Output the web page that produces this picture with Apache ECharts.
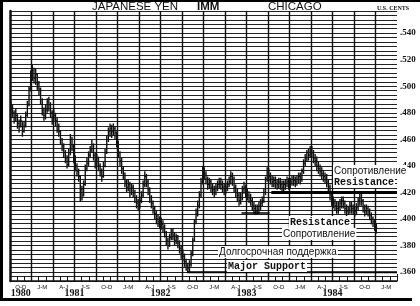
<!DOCTYPE html>
<html><head><meta charset="utf-8">
<script src="https://cdn.jsdelivr.net/npm/echarts@6/dist/echarts.min.js"></script>
<style>html,body{margin:0;padding:0;background:#fff}#c{width:420px;height:306px}</style>
</head><body><div id="c"></div>
<script>
// Quarter labels along the time axis (Oct-Dec 1980 ... Jan-Mar 1985)
const quarterLabels = ['O-D','J-M','A-J','J-S','O-D','J-M','A-J','J-S','O-D','J-M','A-J','J-S','O-D','J-M','A-J','J-S','O-D','J-M'];
const yearLabels = ['1980','1981','1982','1983','1984'];
const yearCenters = [6.5, 39, 91, 143, 195]; // in weeks from start
const priceTicks = [0.36,0.38,0.40,0.42,0.44,0.46,0.48,0.50,0.52,0.54];

// Weekly bars (U.S. cents per yen)
const close = [
.484,.480,.476,.478,.472,.470,.474,.466,.470,.478,.486,.498,.508,.512,.506,.509,.502,.498,.490,.482,
.478,.482,.488,.486,.480,.476,.478,.474,.470,.466,.460,.455,.450,.446,.441,.450,.460,.455,.446,.440,
.436,.432,.422,.418,.426,.438,.442,.448,.452,.456,.448,.442,.446,.440,.436,.432,.440,.450,.460,.466,
.468,.466,.468,.465,.458,.450,.444,.438,.434,.428,.424,.426,.420,.424,.420,.416,.412,.410,.414,.418,
.426,.432,.428,.422,.416,.412,.408,.404,.400,.398,.398,.396,.394,.390,.384,.380,.386,.390,.388,.384,
.386,.382,.378,.374,.372,.368,.365,.363,.366,.374,.384,.398,.404,.410,.418,.428,.436,.434,.430,.426,
.428,.424,.422,.420,.424,.426,.428,.426,.424,.422,.424,.426,.428,.432,.430,.424,.420,.418,.414,.416,
.422,.424,.420,.418,.416,.414,.410,.408,.406,.407,.410,.412,.414,.420,.430,.435,.432,.430,.428,.429,
.427,.426,.428,.426,.424,.426,.427,.428,.426,.428,.430,.429,.428,.430,.432,.430,.436,.442,.446,.450,
.448,.452,.450,.446,.444,.440,.438,.436,.434,.432,.431,.428,.424,.418,.414,.412,.410,.408,.409,.412,
.414,.412,.408,.406,.407,.410,.408,.407,.406,.409,.414,.416,.414,.409,.406,.408,.406,.403,.400,.398,
.395,.393];
const high = [
.489,.486,.482,.483,.479,.475,.478,.473,.474,.481,.489,.500,.512,.516,.514,.513,.510,.504,.499,.491,
.484,.486,.491,.492,.488,.482,.483,.480,.476,.472,.467,.461,.457,.452,.448,.453,.464,.462,.456,.448,
.442,.438,.433,.425,.429,.441,.446,.451,.455,.460,.457,.450,.449,.447,.442,.438,.443,.453,.463,.469,
.472,.471,.472,.470,.466,.459,.451,.446,.440,.435,.430,.430,.428,.427,.426,.422,.418,.415,.417,.421,
.429,.436,.434,.430,.424,.418,.414,.410,.406,.403,.402,.401,.399,.396,.391,.386,.389,.393,.393,.390,
.389,.388,.384,.380,.377,.374,.370,.367,.369,.376,.386,.400,.408,.414,.421,.431,.440,.439,.436,.432,
.431,.430,.427,.425,.427,.429,.431,.431,.429,.427,.427,.429,.432,.436,.435,.432,.426,.423,.420,.420,
.425,.428,.426,.423,.421,.419,.416,.413,.411,.411,.413,.415,.417,.423,.432,.439,.438,.435,.433,.432,
.432,.430,.431,.431,.429,.429,.430,.432,.431,.431,.433,.433,.432,.433,.435,.435,.438,.445,.449,.452,
.453,.455,.455,.452,.449,.447,.443,.441,.439,.437,.435,.434,.430,.426,.420,.417,.415,.413,.413,.415,
.417,.417,.414,.411,.410,.413,.413,.411,.410,.412,.416,.419,.419,.415,.411,.411,.410,.408,.405,.402,
.400,.397];
const low = [
.479,.476,.472,.473,.468,.465,.469,.462,.465,.469,.477,.485,.496,.504,.502,.501,.497,.493,.486,.478,
.474,.475,.480,.481,.476,.471,.473,.470,.465,.462,.456,.451,.446,.442,.438,.440,.448,.451,.442,.436,
.432,.428,.413,.414,.417,.425,.436,.440,.446,.450,.444,.438,.440,.436,.432,.428,.431,.439,.449,.458,
.462,.461,.463,.460,.454,.446,.440,.434,.430,.424,.420,.421,.416,.418,.416,.412,.408,.406,.408,.412,
.416,.424,.424,.418,.412,.408,.404,.400,.396,.394,.393,.392,.390,.386,.380,.377,.379,.384,.384,.380,
.381,.378,.374,.370,.368,.364,.361,.360,.360,.364,.372,.383,.396,.402,.408,.416,.426,.430,.426,.422,
.423,.420,.418,.416,.418,.421,.423,.422,.420,.418,.419,.421,.424,.426,.425,.420,.416,.413,.410,.411,
.414,.419,.416,.414,.412,.410,.406,.404,.403,.403,.404,.406,.409,.412,.418,.428,.428,.426,.424,.424,
.423,.422,.423,.422,.420,.421,.422,.424,.422,.423,.425,.425,.424,.425,.427,.426,.428,.434,.440,.443,
.444,.446,.446,.442,.440,.436,.434,.432,.430,.428,.427,.424,.420,.414,.410,.408,.406,.404,.404,.406,
.408,.408,.404,.402,.403,.404,.404,.403,.402,.403,.406,.410,.410,.405,.402,.403,.402,.399,.396,.394,
.391,.389];

// Drawn trend levels: [week, price]
const resistanceUpper = [[158, 0.420], [234, 0.420]];
const resistanceLower = [[140, 0.4045], [157, 0.4045]];
const majorSupport = [[107, 0.360], [234, 0.360]];

const STEP = 0.02 / 6;
const YMIN = STEP * 106, YMAX = STEP * 167;
const bars = close.map((c, i) => [i + 0.5, high[i], low[i], c]);
const ink = '#111';

const chart = echarts.init(document.getElementById('c'), null, {renderer: 'canvas'});
const annot = (text, left, top, font) => ({
  type: 'text', left, top, z: 100,
  style: {text, font, fill: ink, backgroundColor: '#fff', padding: [1, 1]}
});
chart.setOption({
  animation: false,
  grid: {left: 10, right: 23, top: 11, bottom: 25},
  xAxis: [{
    type: 'value', min: 0, max: 234, interval: 13,
    splitLine: {show: true, showMinLine: false, showMaxLine: false, lineStyle: {color: ink, width: 1.4}},
    axisLine: {show: true, onZero: false, lineStyle: {color: ink, width: 1.5}},
    axisTick: {show: true, inside: true, length: 7, lineStyle: {color: ink, width: 1}},
    minorTick: {show: true, splitNumber: 3, length: 5, lineStyle: {color: ink, width: 1}},
    axisLabel: {
      customValues: quarterLabels.map((q, i) => i * 13 + 6.5),
      formatter: v => quarterLabels[Math.round((v - 6.5) / 13)] || '',
      fontSize: 6, fontFamily: 'Liberation Sans', color: ink, margin: 3
    }
  }, {
    type: 'value', min: 0, max: 234, position: 'bottom', offset: 5,
    axisLine: {show: false}, axisTick: {show: false}, splitLine: {show: false},
    axisLabel: {
      customValues: yearCenters,
      formatter: v => yearLabels[yearCenters.indexOf(v)] || '',
      fontSize: 10, fontWeight: 'bold', fontFamily: 'Liberation Sans Narrow', color: ink, margin: 2
    }
  }],
  yAxis: [{
    type: 'value', position: 'right', min: YMIN, max: YMAX, interval: STEP,
    splitLine: {show: true, lineStyle: {color: '#222', width: 1}},
    axisLine: {show: false}, axisTick: {show: false},
    axisLabel: {
      customValues: priceTicks,
      formatter: v => '.' + Math.round(v * 1000),
      fontSize: 9, fontWeight: 'bold', fontFamily: 'Liberation Sans Narrow', color: ink, margin: 3
    }
  }, {
    type: 'value', position: 'left', min: YMIN, max: YMAX, interval: STEP,
    axisLine: {show: true, lineStyle: {color: ink, width: 2.5}},
    axisTick: {show: false}, axisLabel: {show: false}, splitLine: {show: false}
  }],
  graphic: [
    {type: 'rect', left: 0, top: 0, z: 90, shape: {width: 3, height: 301}, style: {fill: '#000'}},
    {type: 'rect', left: 0, top: 0, z: 90, shape: {width: 420, height: 2}, style: {fill: '#000'}},
    {type: 'rect', left: 0, top: 298, z: 90, shape: {width: 412, height: 3}, style: {fill: '#000'}},
    {type: 'text', left: 92, top: 1, style: {text: 'JAPANESE YEN', font: '11.5px "Liberation Sans"', fill: ink}},
    {type: 'text', left: 197, top: 1, style: {text: 'IMM', font: 'bold 11.5px "Liberation Sans"', fill: ink}},
    {type: 'text', left: 268, top: 1, style: {text: 'CHICAGO', font: '11.5px "Liberation Sans"', fill: ink}},
    {type: 'text', left: 377, top: 5, style: {text: 'U.S. CENTS', font: 'bold 6px "Liberation Sans Narrow"', fill: ink}},
    annot('Сопротивление', 333, 165, '10px "Liberation Sans"'),
    annot('Resistance', 333, 176, 'bold 10px "Liberation Mono"'),
    annot('Resistance', 289, 216, 'bold 10px "Liberation Mono"'),
    annot('Сопротивление', 282, 228, '10px "Liberation Sans"'),
    annot('Долгосрочная поддержка', 218, 246, '10px "Liberation Sans"'),
    annot('Major Support', 227, 260, 'bold 10px "Liberation Mono"')
  ],
  series: [{
    type: 'custom', data: bars, encode: {x: 0, y: [1, 2, 3]}, z: 5,
    renderItem: (params, api) => {
      const x = api.value(0);
      const h = api.coord([x, api.value(1)]);
      const l = api.coord([x, api.value(2)]);
      const c = api.coord([x, api.value(3)]);
      return {type: 'group', children: [
        {type: 'line', shape: {x1: h[0], y1: h[1], x2: l[0], y2: l[1]}, style: {stroke: ink, lineWidth: 1.4}},
        {type: 'line', shape: {x1: c[0], y1: c[1], x2: c[0] + 1.6, y2: c[1]}, style: {stroke: ink, lineWidth: 1}}
      ]};
    }
  }, {
    type: 'line', data: resistanceUpper, symbol: 'none', z: 6,
    lineStyle: {color: '#000', width: 3}
  }, {
    type: 'line', data: resistanceLower, symbol: 'none', z: 6,
    lineStyle: {color: '#000', width: 1.5}
  }, {
    type: 'line', data: majorSupport, symbol: 'none', z: 6,
    lineStyle: {color: '#000', width: 2}
  }]
});
</script></body></html>
